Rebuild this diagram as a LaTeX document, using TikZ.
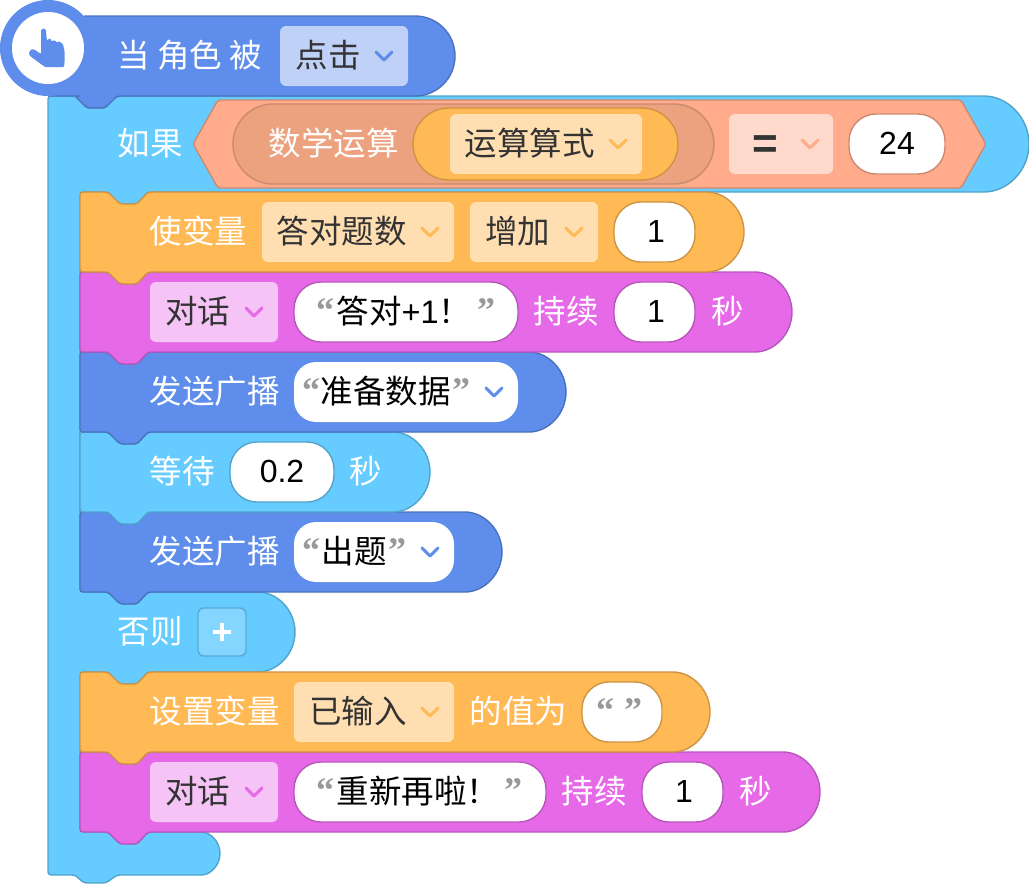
\documentclass[tikz,border=0pt]{standalone}
\usepackage{fontspec}
\setmainfont{Liberation Sans}
\newfontfamily\cjk{Noto Sans CJK SC}
\newfontfamily\qfont{Liberation Serif}
\newfontfamily\latinf{Liberation Sans}
\definecolor{bluef}{HTML}{5E8DEC}\definecolor{blues}{HTML}{4B71BD}
\definecolor{cyanf}{HTML}{66CCFF}\definecolor{cyans}{HTML}{52A3CC}
\definecolor{orgf}{HTML}{FFB955}\definecolor{orgs}{HTML}{CC9444}
\definecolor{pinkf}{HTML}{E66AE8}\definecolor{pinks}{HTML}{B855BA}
\definecolor{salf}{HTML}{FFAB8C}\definecolor{sals}{HTML}{CC8970}
\definecolor{mathf}{HTML}{ECA27F}\definecolor{maths}{HTML}{C98A6E}
\definecolor{txtd}{HTML}{333333}\definecolor{qgray}{HTML}{999999}
\tikzset{
  blockline/.style={line width=1.4pt,line join=round,rounded corners=3pt},
  wtxt/.style={inner sep=0pt,anchor=west,text=white,text height=27.5pt,text depth=4.5pt,font=\fontsize{32.5}{32.5}\selectfont\cjk},
  dd/.style={inner sep=0pt,rounded corners=6pt,minimum height=60pt},
  lab/.style={inner sep=0pt,text=txtd,text height=27.5pt,text depth=4.5pt,font=\fontsize{32.5}{32.5}\selectfont\cjk},
  pilltxt/.style={inner sep=0pt,text=black,text height=27.5pt,text depth=4.5pt,font=\fontsize{32.5}{32.5}\selectfont\cjk},
  numtxt/.style={inner sep=0pt,text=black,text height=27pt,text depth=5pt,font=\fontsize{32}{32}\selectfont\latinf},
  pill/.style={draw=#1,line width=1.4pt,fill=white,inner sep=0pt,rounded corners=27pt,minimum height=60pt},
  flatpill/.style={fill=white,inner sep=0pt,rounded corners=22pt,minimum height=60pt},
  qmark/.style={inner sep=0pt,text=qgray,font=\fontsize{36}{36}\selectfont\qfont\bfseries},
  chevline/.style={line width=3pt,line cap=round,line join=round}
}
\newcommand{\stmt}[5]{% top,bottom,right,fill,stroke
  \pgfmathsetmacro{\rr}{(#2-#1)/2}
  \draw[blockline,fill=#4,draw=#5] (80,#1) -- (108,#1) -- (120,#1+12) -- (137,#1+12) -- (148,#1) -- (#3-\rr,#1)
    arc[start angle=-90,end angle=90,radius=\rr]
    -- (148,#2) -- (137,#2+12) -- (120,#2+12) -- (108,#2) -- (80,#2) -- cycle;}
\newcommand{\chev}[3]{\draw[chevline,draw=#3] (#1-8,#2-4) -- (#1,#2+4) -- (#1+8,#2-4);}
\begin{document}
\begin{tikzpicture}[x=1pt,y=-1pt]
\useasboundingbox (0,0) rectangle (1029,884);
% C block
\draw[blockline,fill=cyanf,draw=cyans] (48,96) -- (75,96) -- (87,108) -- (105,108) -- (117,96) -- (981,96)
  arc[start angle=-90,end angle=90,radius=48]
  -- (148,192) -- (137,204) -- (120,204) -- (108,192) -- (80,192) -- (80,592)
  -- (108,592) -- (120,604) -- (137,604) -- (148,592) -- (255,592)
  arc[start angle=-90,end angle=90,radius=40]
  -- (148,672) -- (137,684) -- (120,684) -- (108,672) -- (80,672) -- (80,832)
  -- (108,832) -- (120,844) -- (137,844) -- (148,832) -- (198.5,832)
  arc[start angle=-90,end angle=90,radius=21.5]
  -- (117,875) -- (106,883) -- (84,883) -- (75,875) -- (48,875) -- cycle;
% statements, bottom to top
\stmt{752}{832}{820}{pinkf}{pinks}
\stmt{672}{752}{710}{orgf}{orgs}
\stmt{512}{592}{502}{bluef}{blues}
\stmt{432}{512}{430}{cyanf}{cyans}
\stmt{352}{432}{566}{bluef}{blues}
\stmt{272}{352}{792}{pinkf}{pinks}
\stmt{192}{272}{744}{orgf}{orgs}
% hat
\draw[line width=1.4pt,line join=round,draw=blues,fill=bluef] (84,16) -- (415,16)
  arc[start angle=-90,end angle=90,radius=40]
  [rounded corners=3pt] -- (117,96) -- (105,108) -- (87,108) -- (75,96) [sharp corners] -- (80,96) -- (48,96);
\fill[bluef] (48,48) circle[radius=48];
\fill[bluef] (84,17) rectangle (110,95);
\fill[white] (48,48) circle[radius=36];
\fill[bluef,rounded corners=1pt] (41,31) .. controls (42,28) and (46,28) .. (46,32) -- (47,41)
  .. controls (48,38) and (51,38) .. (52,42) .. controls (53,40) and (56,40) .. (57,43)
  .. controls (58,41) and (62,42) .. (63,45) .. controls (65,50) and (65,60) .. (64,67)
  -- (45,67) -- (30,56) .. controls (28,52) and (31,48) .. (35,50) -- (41,54) -- cycle;
\node[wtxt] (when) at (117.5,56) {当 角色 被};
\node[dd,fill=white!60!bluef,minimum width=128pt] (clickdd) at (344,56) {};
\node[lab] (click) at (328,56) {点击};
\chev{384}{56}{bluef}
% if row
\node[wtxt] (iftxt) at (117.5,144) {如果};
\draw[line width=1.4pt,line join=round,rounded corners=2pt,fill=salf,draw=sals] (193,144) -- (218,100) -- (961,100) -- (986,144) -- (961,188) -- (218,188) -- cycle;
\node[draw=maths,fill=mathf,line width=1.4pt,inner sep=0pt,rounded corners=40pt,minimum width=481pt,minimum height=80pt] (mathpill) at (473.5,144) {};
\node[wtxt] (mathtxt) at (268.5,144) {数学运算};
\node[draw=orgs,fill=orgf,line width=1.4pt,inner sep=0pt,rounded corners=36pt,minimum width=265pt,minimum height=72pt] (oppill) at (545.5,144) {};
\node[dd,fill=white!55!orgf,minimum width=192pt] (opdd) at (546,144) {};
\node[lab] (optxt) at (529.5,144) {运算算式};
\chev{618}{144}{orgf}
\node[dd,fill=white!55!salf,minimum width=104pt] (eqdd) at (781,144) {};
\node[inner sep=0pt,text=txtd,font=\fontsize{44}{44}\selectfont\latinf\bfseries] (eq) at (765.5,147) {=};
\chev{810}{144}{salf}
\node[pill=sals,minimum width=96pt] (n24) at (897,144) {};
\node[numtxt] (n24t) at (897,143.5) {24};
% row 1
\node[wtxt] (a1) at (149.5,232) {使变量};
\node[dd,fill=white!55!orgf,minimum width=192pt] (a2) at (358,232) {};
\node[lab] (a3) at (341.5,232) {答对题数};
\chev{430}{232}{orgf}
\node[dd,fill=white!55!orgf,minimum width=128pt] (a4) at (534,232) {};
\node[lab] (a5) at (517.5,232) {增加};
\chev{574}{232}{orgf}
\node[pill=orgs,minimum width=81pt] (a6) at (654.5,232) {};
\node[numtxt] (a7) at (656,231.5) {1};
% row 2
\node[dd,fill=white!60!pinkf,minimum width=128pt] (b1) at (214,312) {};
\node[lab] (b2) at (197.5,312) {对话};
\chev{254}{312}{pinkf}
\node[pill=pinks,minimum width=224pt] (b3) at (406,312) {};
\node[qmark] (b4) at (325,311) {“};
\node[pilltxt] (b5) at (404,312) {答对{\latinf +1}！};
\node[qmark] (b6) at (486,311) {”};
\node[wtxt] (b7) at (533.5,312) {持续};
\node[pill=pinks,minimum width=81pt] (b8) at (654.5,312) {};
\node[numtxt] (b9) at (656,311.5) {1};
\node[wtxt] (b10) at (711.5,312) {秒};
% row 3
\node[wtxt] (c1) at (149.5,392) {发送广播};
\node[flatpill,minimum width=224pt] (c2) at (406,392) {};
\node[qmark] (c3) at (311,391) {“};
\node[pilltxt] (c4) at (385.5,392) {准备数据};
\node[qmark] (c5) at (461,391) {”};
\chev{494}{392}{bluef}
% row 4
\node[wtxt] (d1) at (149.5,472) {等待};
\node[pill=cyans,minimum width=104pt] (d2) at (282,472) {};
\node[numtxt] (d3) at (282,471.5) {0.2};
\node[wtxt] (d4) at (349.5,472) {秒};
% row 5
\node[wtxt] (e1) at (149.5,552) {发送广播};
\node[flatpill,minimum width=160pt] (e2) at (374,552) {};
\node[qmark] (e3) at (311,551) {“};
\node[pilltxt] (e4) at (354,552) {出题};
\node[qmark] (e5) at (397,551) {”};
\chev{430}{552}{bluef}
% else
\node[wtxt] (f1) at (117.5,632) {否则};
\node[draw=cyans!80!cyanf,fill=white!20!cyanf,line width=1.4pt,inner sep=0pt,rounded corners=6pt,minimum width=48pt,minimum height=48pt] (f2) at (222,632) {};
\draw[white,line width=4pt] (213,632) -- (231,632) (222,623) -- (222,641);
% row 6
\node[wtxt] (g1) at (149.5,712) {设置变量};
\node[dd,fill=white!55!orgf,minimum width=160pt] (g2) at (374,712) {};
\node[lab] (g3) at (358,712) {已输入};
\chev{430}{712}{orgf}
\node[wtxt] (g4) at (469.5,712) {的值为};
\node[pill=orgs,minimum width=80pt] (g5) at (622,712) {};
\node[qmark] (g6) at (605,711) {“};
\node[qmark] (g7) at (633,711) {”};
% row 7
\node[dd,fill=white!60!pinkf,minimum width=128pt] (h1) at (214,792) {};
\node[lab] (h2) at (197.5,792) {对话};
\chev{254}{792}{pinkf}
\node[pill=pinks,minimum width=252pt] (h3) at (420,792) {};
\node[qmark] (h4) at (325,791) {“};
\node[pilltxt] (h5) at (418,792) {重新再啦！};
\node[qmark] (h6) at (513,791) {”};
\node[wtxt] (h7) at (561.5,792) {持续};
\node[pill=pinks,minimum width=81pt] (h8) at (682.5,792) {};
\node[numtxt] (h9) at (684,791.5) {1};
\node[wtxt] (h10) at (739.5,792) {秒};
\end{tikzpicture}
\end{document}
